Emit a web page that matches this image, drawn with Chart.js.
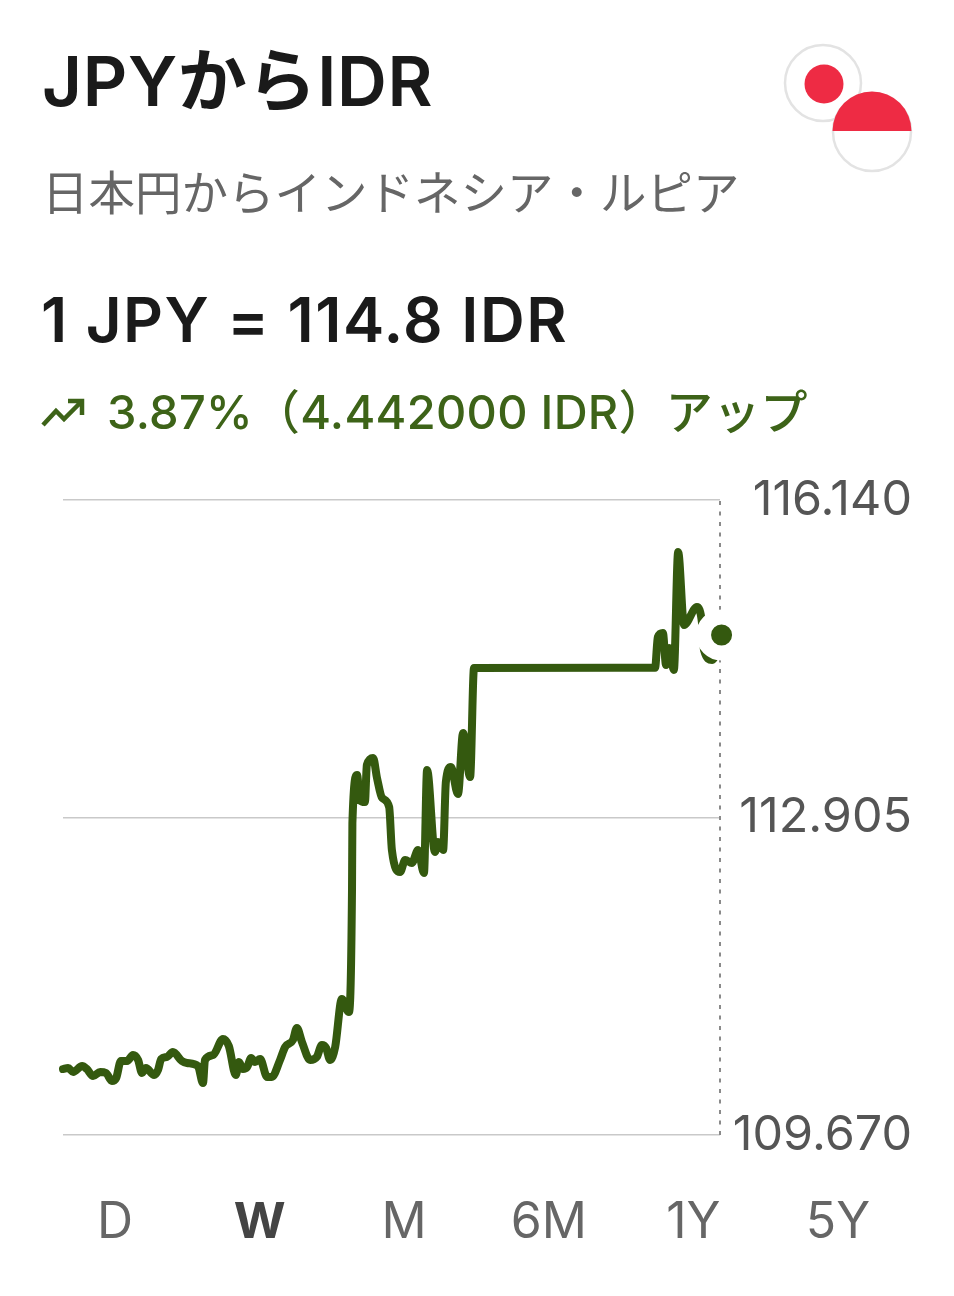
<!DOCTYPE html>
<html lang="ja">
<head>
<meta charset="utf-8">
<title>JPYからIDR</title>
<script src="https://cdn.jsdelivr.net/npm/chart.js@4"></script>
<style>
html,body{margin:0;padding:0;background:#fff;}
#page{position:relative;width:954px;height:1296px;overflow:hidden;background:#fff;font-family:Inter,"Noto Sans CJK JP",sans-serif;}
#page canvas{position:absolute;left:0;top:0;}
.t{position:absolute;white-space:nowrap;line-height:1;}
#title{left:42px;top:47px;font-size:69px;font-weight:600;color:#1a1a1a;letter-spacing:.7px;}
#sub{left:42px;top:170px;font-size:46.5px;color:#666;font-weight:400;}
#rate{left:41px;top:289px;font-size:62px;font-weight:600;color:#1a1a1a;letter-spacing:1.45px;}
#chg{left:107px;top:388px;font-size:47px;color:#3d6318;font-weight:500;letter-spacing:.28px;}
#icon{position:absolute;left:40px;top:394px;}
#flags{position:absolute;left:770px;top:30px;}
.rng{position:absolute;top:1195px;font-size:50px;line-height:1;color:#666;transform:translateX(-50%);}
.rng.on{font-weight:700;color:#444;}
</style>
</head>
<body>
<div id="page">
  <canvas id="c" width="954" height="1296"></canvas>
  <div class="t" id="title">JPYからIDR</div>
  <div class="t" id="sub">日本円からインドネシア・ルピア</div>
  <div class="t" id="rate">1 JPY = 114.8 IDR</div>
  <svg id="icon" width="46" height="36" viewBox="0 0 46 36"><path d="M3 31 L16 17 L24 25 L41 8 M28 7 H42 V21" fill="none" stroke="#3d6318" stroke-width="4.5"/></svg>
  <div class="t" id="chg">3.87%（4.442000 IDR）アップ</div>
  <svg id="flags" width="160" height="150" viewBox="0 0 160 150">
    <circle cx="53" cy="53" r="38" fill="#fff" stroke="#e3e3e3" stroke-width="2.5"/>
    <circle cx="54" cy="54" r="19.5" fill="#ee2b44"/>
    <circle cx="102" cy="102" r="39" fill="#fff" stroke="#e3e3e3" stroke-width="2.5"/>
    <path d="M62.5 101 A39.5 39.5 0 0 1 141.5 101 Z" fill="#ee2b44"/>
  </svg>
</div>
<script>
const hours = [0,1.3,2.6,4.9,6.1,7.7,9.5,11,12.5,13.6,14.8,16.4,17.9,19.2,20.2,21.2,23.3,24.3,25.1,26.6,28.1,30.4,31.7,34.5,35.8,36.3,38.4,40.9,42.4,44.2,45,46,47.1,48.1,49.1,50.4,52.2,53.4,55.5,56.8,58.8,59.8,61.1,63.2,64.9,66.2,67.3,68.3,69.6,71.3,73.1,73.9,74,75.2,75.9,77.2,77.7,79.3,80.3,81.6,83.4,84.1,86.2,87.5,89.2,90.8,92.3,93.1,95.1,95.9,97.2,97.9,99.2,101,102.3,104.1,105.1,151.4,152.1,153.4,154.2,155,156.2,157.3,158.8,162.1,163.4,163.9,166,168.4];
const rates = [110.342,110.353,110.312,110.373,110.342,110.271,110.312,110.302,110.22,110.251,110.424,110.424,110.485,110.434,110.302,110.353,110.281,110.332,110.444,110.465,110.516,110.424,110.404,110.373,110.2,110.434,110.485,110.648,110.577,110.281,110.414,110.342,110.363,110.455,110.414,110.444,110.261,110.261,110.434,110.567,110.638,110.76,110.618,110.434,110.465,110.587,110.556,110.434,110.567,111.056,110.923,112.166,112.849,113.338,113.083,113.063,113.44,113.511,113.307,113.104,113.012,112.574,112.35,112.472,112.441,112.574,112.34,113.389,112.553,112.655,112.574,113.267,113.42,113.144,113.766,113.318,114.428,114.43,114.744,114.785,114.459,114.632,114.408,115.61,114.866,115.05,114.887,114.612,114.51,114.764];
const xAxisEnd = 168;
const yTicks = [109.67,112.905,116.14];
const yTickLabels = ["109.670","112.905","116.140"];
const ranges = ["D","W","M","6M","1Y","5Y"];
const activeRange = "W";

const green = "#34590f";
ranges.forEach((r,i)=>{
  const s=document.createElement("div");
  s.className="rng"+(r===activeRange?" on":"");
  s.style.left=(115+144.6*i)+"px";
  s.textContent=r;
  document.getElementById("page").appendChild(s);
});

const last = hours.length-1;
new Chart(document.getElementById("c"),{
  type:"line",
  data:{datasets:[
    {data:[{x:hours[last],y:rates[last]}],pointRadius:18,pointBorderWidth:15,pointBorderColor:"#fff",pointBackgroundColor:green,showLine:false,clip:false,order:0},
    {data:hours.map((h,i)=>({x:h,y:rates[i]})),borderColor:green,borderWidth:8,pointRadius:0,cubicInterpolationMode:"monotone",borderJoinStyle:"round",borderCapStyle:"round",clip:false,order:1},
    {data:[{x:xAxisEnd,y:yTicks[0]},{x:xAxisEnd,y:yTicks[2]}],borderColor:"#8a8a8a",borderWidth:2,borderDash:[4,6.5],pointRadius:0,tension:0,clip:false,order:2}
  ]},
  options:{
    responsive:false,animation:false,devicePixelRatio:1,
    layout:{padding:{left:63,top:500,bottom:161,right:42}},
    plugins:{legend:{display:false},tooltip:{enabled:false},title:{display:false}},
    scales:{
      x:{type:"linear",display:false,min:0,max:xAxisEnd},
      y:{position:"right",min:yTicks[0],max:yTicks[2],
        afterBuildTicks(s){s.ticks=yTicks.map(v=>({value:v}));},
        afterFit(s){s.width=192;},
        border:{display:false},
        grid:{color:"#c9c9c9",lineWidth:1.6,drawTicks:false},
        ticks:{crossAlign:"far",padding:0,autoSkip:false,maxRotation:0,color:"#555",
          font:{family:"Inter",size:48.5,weight:"400"},
          callback(v){return yTickLabels[yTicks.indexOf(v)];}}
      }
    }
  }
});
</script>
</body>
</html>
